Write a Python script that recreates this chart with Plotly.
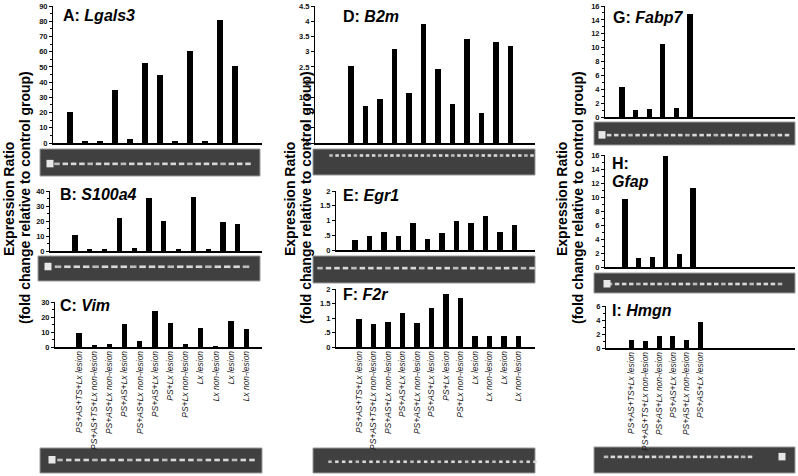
import plotly.graph_objects as go

W, H = 798, 476

# ---------------- data ----------------
categories_long = ["PS+AS+TS+Lx lesion", "PS+AS+TS+Lx non-lesion", "PS+AS+Lx non-lesion",
                   "PS+AS+Lx lesion", "PS+AS+Lx non-lesion", "PS+AS+Lx lesion",
                   "PS+Lx lesion", "PS+Lx non-lesion", "Lx lesion", "Lx non-lesion",
                   "Lx lesion", "Lx non-lesion"]
categories_short = ["PS+AS+TS+Lx lesion", "PS+AS+TS+Lx non-lesion", "PS+AS+Lx non-lesion",
                    "PS+AS+Lx lesion", "PS+AS+Lx non-lesion", "PS+AS+Lx lesion"]

lgals3 = [20.4, 1, 1, 34.6, 2.6, 52.6, 45, 1, 60.5, 1, 81.1, 50.4]
s100a4 = [10.4, 1.2, 1.2, 22.2, 2.1, 35.1, 20, 1.2, 36, 1.6, 19.6, 17.8]
vim = [9.6, 1.3, 1.7, 15.2, 3.7, 23.7, 15.7, 2, 12.4, 0.9, 17.4, 12]
b2m = [2.53, 1.2, 1.44, 3.09, 1.63, 3.92, 2.43, 1.27, 3.42, 0.98, 3.33, 3.17]
egr1 = [0.34, 0.47, 0.62, 0.47, 0.92, 0.37, 0.57, 1.0, 0.92, 1.16, 0.62, 0.85]
f2r = [0.95, 0.79, 0.86, 1.17, 0.83, 1.35, 1.84, 1.68, 0.37, 0.39, 0.39, 0.39]
fabp7 = [4.3, 1.05, 1.1, 10.5, 1.35, 14.8]
gfap = [9.66, 1.24, 1.43, 15.8, 1.82, 11.34]
hmgn = [1.1, 1.0, 1.67, 1.67, 1.1, 3.67]

# ---------------- layout helpers ----------------
def fx(px):
    return px / W

def fy(py):
    return 1 - py / H

panels = [
    dict(letter="A", gene="Lgals3", vals=lgals3, cats=categories_long, lab=False,
         al=53, ar=262, b0=70, sp=15.0, yt=6, yz=143, ymax=90, dt=10, minor=5),
    dict(letter="B", gene="S100a4", vals=s100a4, cats=categories_long, lab=False,
         al=50, ar=262, b0=75, sp=14.8, yt=191, yz=251, ymax=40, dt=10, minor=5),
    dict(letter="C", gene="Vim", vals=vim, cats=categories_long, lab=True,
         al=55, ar=262, b0=79, sp=15.2, yt=302, yz=347, ymax=30, dt=10, minor=5),
    dict(letter="D", gene="B2m", vals=b2m, cats=categories_long, lab=False,
         al=315, ar=535, b0=351, sp=14.5, yt=6, yz=143, ymax=4.5, dt=0.5, minor=None),
    dict(letter="E", gene="Egr1", vals=egr1, cats=categories_long, lab=False,
         al=336, ar=535, b0=355, sp=14.5, yt=191, yz=250, ymax=2, dt=0.5, minor=None),
    dict(letter="F", gene="F2r", vals=f2r, cats=categories_long, lab=True,
         al=336, ar=535, b0=359, sp=14.5, yt=289, yz=347, ymax=2, dt=0.5, minor=None),
    dict(letter="G", gene="Fabp7", vals=fabp7, cats=categories_short, lab=False,
         al=605, ar=795, b0=622, sp=13.6, yt=6, yz=117, ymax=16, dt=2, minor=1),
    dict(letter="H", gene="Gfap", vals=gfap, cats=categories_short, lab=False,
         al=605, ar=795, b0=625, sp=13.6, yt=155, yz=267, ymax=16, dt=2, minor=1),
    dict(letter="I", gene="Hmgn", vals=hmgn, cats=categories_short, lab=True,
         al=606, ar=795, b0=631.7, sp=13.7, yt=306, yz=348, ymax=6, dt=2, minor=1),
]

title_pos = {"A": (61, 5), "B": (58, 184), "C": (58, 295), "D": (341, 6), "E": (341, 185),
             "F": (341, 284), "G": (611, 7), "I": (610, 300)}

def fmt(v):
    s = ("%g" % v)
    if s.startswith("0."):
        s = s[1:]
    return s

fig = go.Figure()
layout = dict(width=W, height=H, margin=dict(l=0, r=0, t=0, b=0),
              paper_bgcolor="white", plot_bgcolor="rgba(0,0,0,0)",
              showlegend=False, template="none", bargap=0)

annotations = []
shapes = []

for i, p in enumerate(panels):
    k = "" if i == 0 else str(i + 1)
    n = len(p["vals"])
    xs = list(range(n))
    fig.add_trace(go.Bar(x=xs, y=p["vals"], xaxis="x" + k, yaxis="y" + k,
                         marker=dict(color="black", line=dict(width=0)),
                         width=5.2 / p["sp"], hoverinfo="skip"))
    xr = [(p["al"] - p["b0"]) / p["sp"], (p["ar"] - p["b0"]) / p["sp"]]
    tickvals_y = []
    v = 0.0
    while v <= p["ymax"] + 1e-9:
        tickvals_y.append(round(v, 4))
        v += p["dt"]
    xa = dict(domain=[fx(p["al"]), fx(p["ar"])], range=xr, anchor="y" + k,
              showline=True, linecolor="black", linewidth=1.5, showgrid=False,
              zeroline=False, ticks="", ticklen=0, automargin=False, fixedrange=True)
    if p["lab"]:
        xa.update(tickvals=xs, ticktext=p["cats"], tickangle=-90, showticklabels=True,
                  tickfont=dict(family="Arial, Liberation Sans", size=8.5, color="#1a1a1a",
                                style="italic"), ticklabelstandoff=-1)
    else:
        xa.update(showticklabels=False)
    ya = dict(domain=[fy(p["yz"]), fy(p["yt"])], range=[0, p["ymax"]], anchor="x" + k,
              showline=True, linecolor="black", linewidth=1, showgrid=False, zeroline=False,
              ticks="outside", ticklen=3, tickwidth=1, tickcolor="black",
              tickvals=tickvals_y, ticktext=[fmt(t) for t in tickvals_y],
              tickfont=dict(family="Arial, Liberation Sans", size=7.5, color="#111", weight="bold"),
              automargin=False, fixedrange=True)
    if p["minor"]:
        ya["minor"] = dict(dtick=p["minor"], ticks="outside", ticklen=2, tickcolor="black")
    layout["xaxis" + k] = xa
    layout["yaxis" + k] = ya

    if p["letter"] in title_pos:
        tx, ty = title_pos[p["letter"]]
        annotations.append(dict(x=fx(tx), y=fy(ty), xref="paper", yref="paper",
                                xanchor="left", yanchor="top", showarrow=False,
                                text="<b>%s: <i>%s</i></b>" % (p["letter"], p["gene"]),
                                font=dict(family="Arial, Liberation Sans", size=16, color="black")))

# H title on two lines
annotations.append(dict(x=fx(610), y=fy(153), xref="paper", yref="paper", xanchor="left",
                        yanchor="top", showarrow=False, text="<b>H:</b>",
                        font=dict(family="Arial, Liberation Sans", size=16, color="black")))
annotations.append(dict(x=fx(610), y=fy(171), xref="paper", yref="paper", xanchor="left",
                        yanchor="top", showarrow=False, text="<b><i>Gfap</i></b>",
                        font=dict(family="Arial, Liberation Sans", size=16, color="black")))

# y-axis titles per column
for cx1, cx2 in [(9, 25), (290, 306), (562, 578)]:
    annotations.append(dict(x=fx(cx1), y=fy(199), xref="paper", yref="paper", showarrow=False,
                            xanchor="center", yanchor="middle",
                            textangle=-90, text="<b>Expression Ratio</b>",
                            font=dict(family="Arial, Liberation Sans", size=14, color="black")))
    annotations.append(dict(x=fx(cx2), y=fy(198), xref="paper", yref="paper", showarrow=False,
                            xanchor="center", yanchor="middle",
                            textangle=-90, text="<b>(fold change relative to control group)</b>",
                            font=dict(family="Arial, Liberation Sans", size=14, color="black")))

# gel images (decorative)
gels = [
    # x0, x1, y0, y1, band_start, band_end, lanes, band_frac, band_w, ladder
    (40, 260, 149, 176, 57, 248, 24, 0.55, 5.5, 50),
    (38, 260, 256, 281, 58, 246, 21, 0.43, 6.5, 48),
    (40, 262, 448, 473, 60, 252, 23, 0.48, 5.5, 52),
    (313, 535, 149, 175, 331, 532, 34, 0.25, 3.5, None),
    (313, 535, 256, 283, 320, 532, 26, 0.45, 5.5, None),
    (313, 535, 448, 473, 330, 535, 31, 0.55, 3.5, None),
    (594, 795, 122, 145, 602, 787, 27, 0.57, 4.5, 602),
    (594, 795, 273, 293, 610, 780, 25, 0.55, 4.5, 607),
    (594, 795, 447, 473, 606, 750, 22, 0.38, 4.5, 782),
]
for (x0, x1, y0, y1, bs, be, nl, bf, bw, lad) in gels:
    shapes.append(dict(type="rect", xref="paper", yref="paper", x0=fx(x0), x1=fx(x1),
                       y0=fy(y1), y1=fy(y0), fillcolor="#404040",
                       line=dict(color="#9a9a9a", width=1), layer="below"))
    yc = y0 + bf * (y1 - y0)
    step = (be - bs) / (nl - 1)
    for j in range(nl):
        bx = bs + j * step
        col = "#d9d9d9" if j % 4 else "#bdbdbd"
        shapes.append(dict(type="rect", xref="paper", yref="paper",
                           x0=fx(bx - bw / 2), x1=fx(bx + bw / 2),
                           y0=fy(yc + 1.3), y1=fy(yc - 1.3), fillcolor=col,
                           line=dict(width=0), layer="below"))
    if lad is not None:
        shapes.append(dict(type="rect", xref="paper", yref="paper",
                           x0=fx(lad - 3.5), x1=fx(lad + 3.5),
                           y0=fy(yc + 3.5), y1=fy(yc - 4), fillcolor="#e8e8e8",
                           line=dict(width=0), layer="below"))

layout["annotations"] = annotations
layout["shapes"] = shapes
fig.update_layout(**layout)
fig.write_html("out.html", config={"displayModeBar": False, "staticPlot": True},
               post_script="document.body.style.margin='0';document.body.style.overflow='hidden';")
